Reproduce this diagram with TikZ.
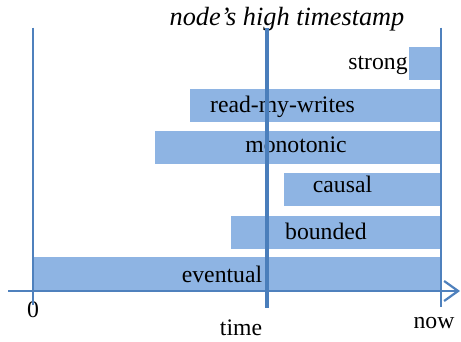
\documentclass[tikz,border=0pt]{standalone}
\usepackage{fontspec}
\setmainfont{Liberation Serif}
\usetikzlibrary{arrows.meta}
\definecolor{barblue}{HTML}{8EB4E3}
\definecolor{lineblue}{HTML}{4F81BD}
\definecolor{markblue}{HTML}{4A7EBB}
\begin{document}
\begin{tikzpicture}[x=1pt,y=-1pt,
  bar/.style={fill=barblue, draw=none, inner sep=0, outer sep=0, anchor=north west},
  lbl/.style={font=\fontsize{23.7}{28}\selectfont, inner sep=0, anchor=base},
  ttl/.style={font=\fontsize{26.3}{30}\selectfont\itshape, inner sep=0, anchor=base},
  thin/.style={draw=lineblue, line width=1.8pt},
  axisline/.style={draw=lineblue, line width=2pt, -{Straight Barb[length=14pt,width=20pt,line width=2.2pt]}},
  marker/.style={draw=markblue, line width=3.5pt}]
\useasboundingbox (0,0) rectangle (461,342);
% bars
\node[bar, minimum width=32, minimum height=33] (strongbar) at (409,47) {};
\node[bar, minimum width=251, minimum height=33] (rmwbar) at (190,89) {};
\node[bar, minimum width=286, minimum height=33] (monobar) at (155,131) {};
\node[bar, minimum width=157, minimum height=33] (causalbar) at (284,173) {};
\node[bar, minimum width=210, minimum height=33] (boundbar) at (231,216) {};
\node[bar, minimum width=408, minimum height=34] (eventbar) at (33,257) {};
% labels
\node[lbl] (strongl) at (378,70) {strong};
\node[lbl] (rmwl) at (282.5,113) {read-my-writes};
\node[lbl] (monol) at (296,153) {monotonic};
\node[lbl] (causall) at (342.5,193) {causal};
\node[lbl] (boundl) at (326,240) {bounded};
\node[lbl] (eventl) at (222,283) {eventual};
\node[lbl] (zerol) at (33,317) {0};
\node[lbl] (timel) at (241,335) {time};
\node[lbl] (nowl) at (434,328) {now};
\node[ttl] (title) at (287,26) {node’s high timestamp};
% lines
\coordinate (lT) at (33.3,27.7);
\coordinate (lB) at (33.3,305);
\coordinate (rT) at (440.7,27.7);
\coordinate (rB) at (440.7,306.5);
\coordinate (mT) at (267,28.5);
\coordinate (mB) at (267,308);
\coordinate (axL) at (8,291);
\coordinate (axR) at (460,291);
\draw[thin] (lT) -- (lB);
\draw[thin] (rT) -- (rB);
\draw[axisline] (axL) -- (axR);
\draw[marker] (mT) -- (mB);
\end{tikzpicture}
\end{document}
